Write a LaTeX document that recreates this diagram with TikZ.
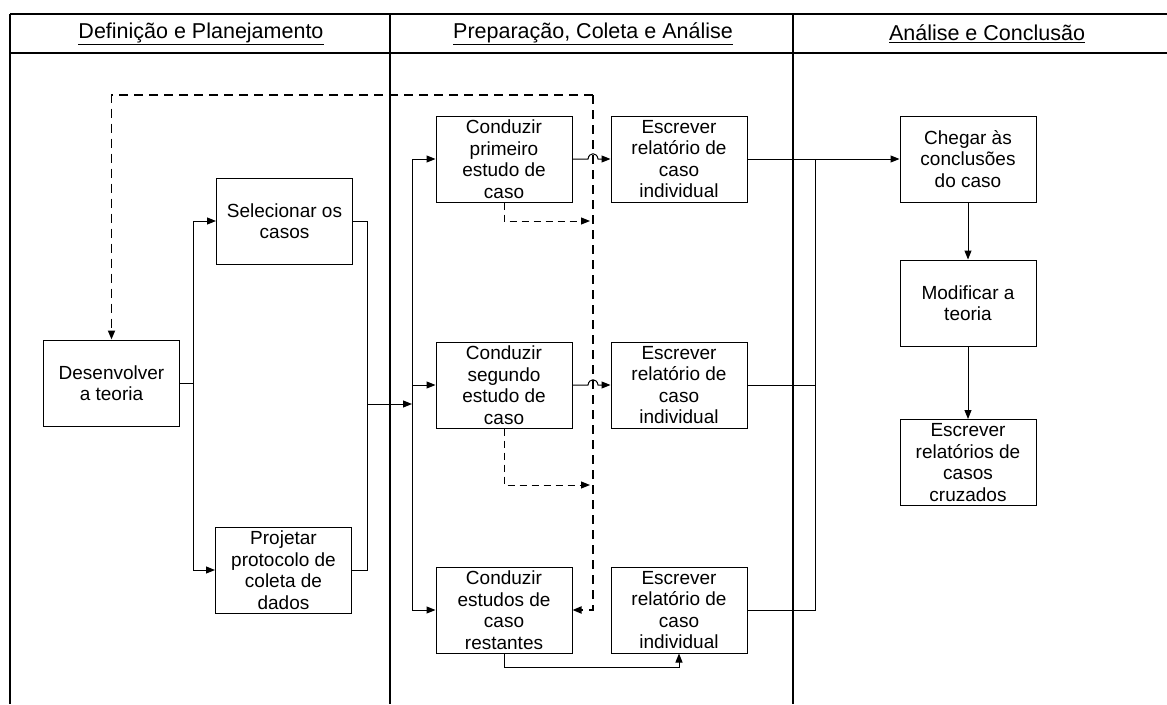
\documentclass[tikz,border=0pt]{standalone}
\usepackage{fontspec}
\setmainfont{Liberation Sans}
\usetikzlibrary{arrows.meta}
\tikzset{
  box/.style={draw, line width=1pt, inner sep=0pt, minimum width=136pt, minimum height=86pt,
    align=center, font=\fontsize{19}{21.5}\selectfont},
  hdr/.style={font=\fontsize{21.5}{24}\selectfont},
  frame/.style={line width=1.3pt},
  conn/.style={line width=1pt},
  arr/.style={-{Triangle[length=9pt,width=7pt]}},
  dashthin/.style={line width=1pt, dash pattern=on 7pt off 5pt},
  dashbold/.style={line width=1.8pt, dash pattern=on 9pt off 6pt},
}
\begin{document}
\begin{tikzpicture}[x=1pt,y=-1pt]
\useasboundingbox (0,0) rectangle (1167,704);
% frame
\draw[frame] (10,14) -- (1167,14);
\draw[frame] (10,53) -- (1167,53);
\draw[frame] (10,14) -- (10,704);
\draw[frame] (390,14) -- (390,704);
\draw[frame] (793,14) -- (793,704);
% headers
\node[hdr] (h1) at (201,34) {\underline{Definição e Planejamento}};
\node[hdr] (h2) at (593,34) {\underline{Preparação, Coleta e Análise}};
\node[hdr] (h3) at (987,34) {\underline{Análise e Conclusão}};
% nodes
\node[box] (dev) at (111.5,383) {Desenvolver\\a teoria};
\node[box] (sel) at (284.5,221) {Selecionar os\\casos};
\node[box] (proj) at (283.5,570) {Projetar\\protocolo de\\coleta de\\dados};
\node[box] (c1) at (504,159) {Conduzir\\primeiro\\estudo de\\caso};
\node[box] (e1) at (679,159) {Escrever\\relatório de\\caso\\individual};
\node[box] (c2) at (504,385) {Conduzir\\segundo\\estudo de\\caso};
\node[box] (e2) at (679,385) {Escrever\\relatório de\\caso\\individual};
\node[box] (c3) at (504,610) {Conduzir\\estudos de\\caso\\restantes};
\node[box] (e3) at (679,610) {Escrever\\relatório de\\caso\\individual};
\node[box] (ch) at (968,159) {Chegar às\\conclusões\\do caso};
\node[box] (mod) at (968,303) {Modificar a\\teoria};
\node[box] (cz) at (968,462.5) {Escrever\\relatórios de\\casos\\cruzados};
% coordinates
\coordinate (b1) at (193,383);
\coordinate (m1) at (367,404);
\coordinate (b2) at (412,404);
\coordinate (d1) at (590,221);
\coordinate (d2) at (590,485);
\coordinate (lt) at (593,95);
\coordinate (b3) at (815,159);
% left lane
\draw[conn] (dev.east) -- (b1);
\draw[conn,arr] (b1) |- (sel.west);
\draw[conn,arr] (b1) |- (proj.west);
\draw[conn] (sel.east) -- (sel.east -| m1) -- (proj.east -| m1) -- (proj.east);
\draw[conn,arr] (m1) -- (b2);
% middle lane bus
\draw[conn,arr] (b2) |- (c1.west);
\draw[conn,arr] (b2) |- (c2.west);
\draw[conn,arr] (b2) |- (c3.west);
% hops
\draw[conn,arr] (c1.east) -- (588,159) .. controls (589,152) and (597,152) .. (598,159) -- (e1.west);
\draw[conn,arr] (c2.east) -- (588,385) .. controls (589,378) and (597,378) .. (598,385) -- (e2.west);
\draw[conn,arr] (c3.south) -- ++(0,14) -| (e3.south);
% dashed
\draw[dashthin,arr] (c1.south) |- (d1);
\draw[dashthin,arr] (c2.south) |- (d2);
\draw[dashbold,arr] (lt) -| (dev.north);
\draw[dashbold,arr] (lt) -- (c3.east -| lt) -- (c3.east);
% right lane
\draw[conn,arr] (e1.east) -- (ch.west);
\draw[conn] (b3) |- (e3.east);
\draw[conn] (e2.east) -- (e2.east -| b3);
\draw[conn,arr] (ch.south) -- (mod.north);
\draw[conn,arr] (mod.south) -- (cz.north);
\end{tikzpicture}
\end{document}
